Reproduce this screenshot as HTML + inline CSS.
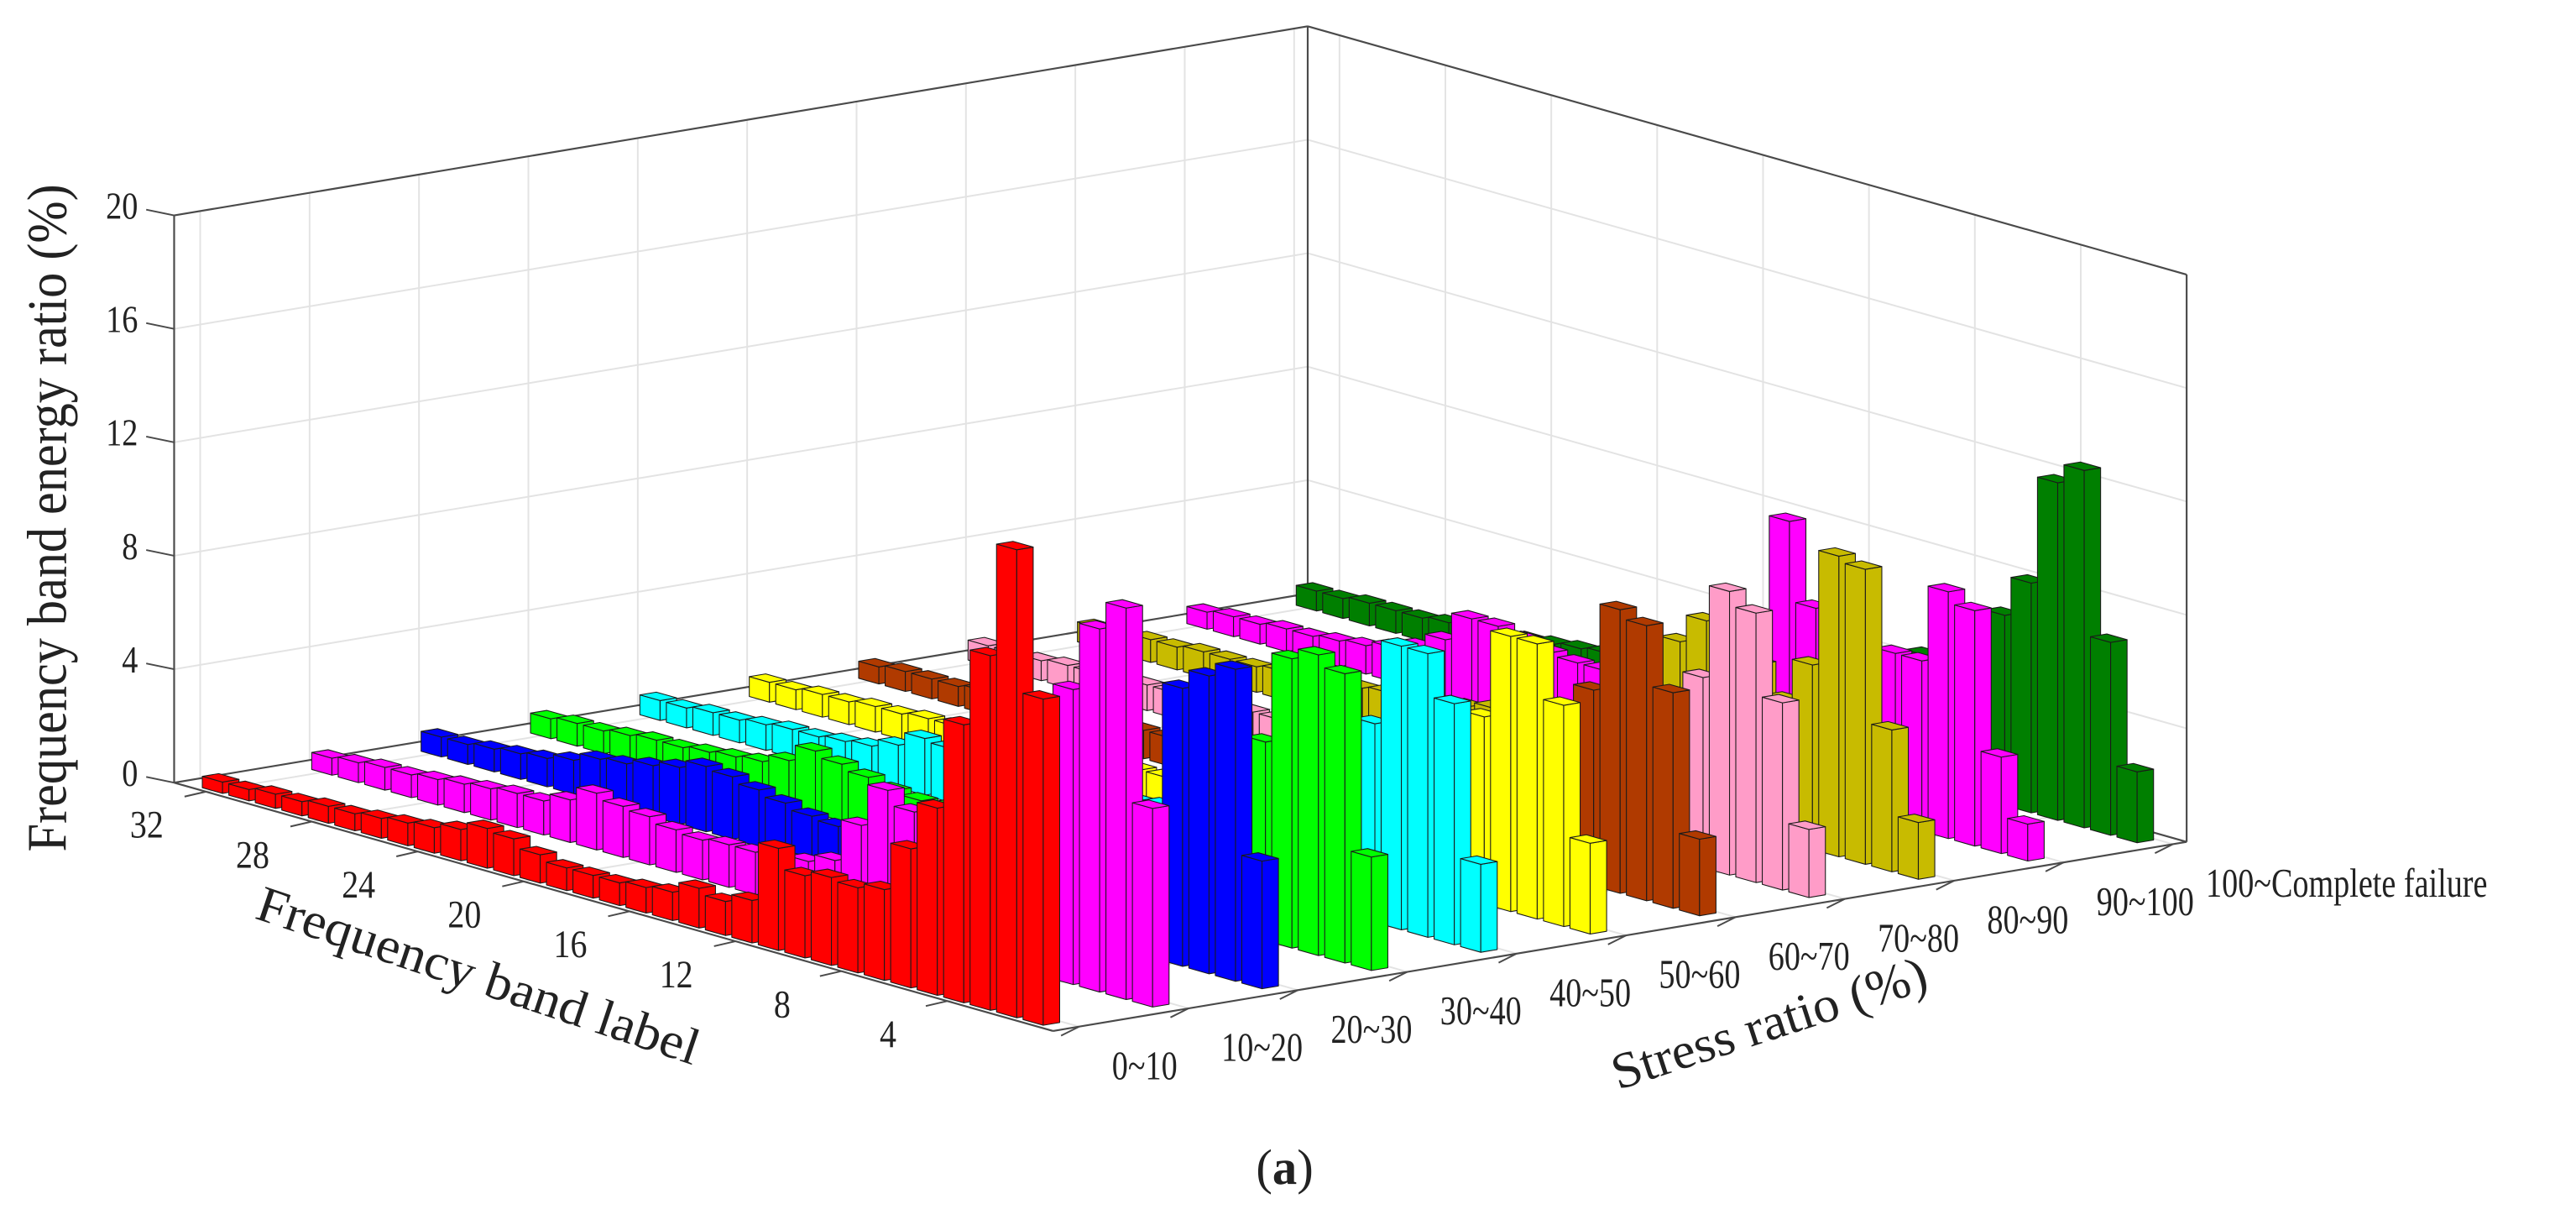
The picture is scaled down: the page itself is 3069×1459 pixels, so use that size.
<!DOCTYPE html>
<html>
<head>
<meta charset="utf-8">
<style>
html,body{margin:0;padding:0;background:#fff;}
svg{display:block;}
text{font-family:"Liberation Serif","Times New Roman",serif;fill:#222;}
</style>
</head>
<body>
<svg id="chart" width="3069" height="1459" viewBox="0 0 1568 745" preserveAspectRatio="none" xmlns="http://www.w3.org/2000/svg">
  <rect x="0" y="0" width="1568" height="745" fill="#fff"/>
  <g id="walls"></g>
  <g id="bars"></g>
  <g id="axes"></g>
  <g id="labels"></g>
  <text x="782" y="720" text-anchor="middle" font-size="30">(<tspan font-weight="bold">a</tspan>)</text>
</svg>
<script>
// ---- data ----
const stressCategories = ["0~10","10~20","20~30","30~40","40~50","50~60","60~70","70~80","80~90","90~100","100~Complete failure"];
const bandTicks = [4,8,12,16,20,24,28,32];
const zTicks = [0,4,8,12,16,20];
const s0_10   = [11.5,16.5,12.5,9.8,6.6,4.9,3.2,3.0,3.1,2.9,3.6,1.5,1.2,1.4,1.0,0.9,0.8,0.8,0.8,1.0,1.3,1.4,1.1,0.9,0.8,0.7,0.6,0.6,0.5,0.5,0.4,0.4];
const s10_20  = [7.0,13.8,12.8,10.4,4.5,3.5,3.0,2.8,3.5,4.5,5.0,3.5,2.0,1.7,1.6,1.5,1.5,1.4,1.5,1.7,1.8,2.0,1.5,1.2,1.2,1.1,1.0,0.9,0.8,0.8,0.7,0.6];
const s20_30  = [4.5,11.0,10.5,9.8,3.5,2.5,2.0,1.5,1.3,1.2,1.2,1.1,1.0,1.0,1.2,1.3,1.5,1.6,1.8,2.0,2.2,2.3,2.0,1.8,1.6,1.5,1.2,1.0,0.9,0.8,0.7,0.7];
const s30_40  = [4.0,10.2,10.6,10.2,7.0,3.5,2.5,2.2,2.0,2.0,2.2,2.5,2.3,2.0,1.8,1.6,1.5,1.5,1.6,1.8,2.0,2.2,1.6,1.3,1.2,1.1,1.0,1.0,0.9,0.8,0.8,0.7];
const s40_50  = [3.1,8.5,10.0,10.0,7.0,3.0,2.2,2.0,1.8,1.8,1.8,1.9,2.0,1.9,1.8,1.7,1.6,1.6,1.7,1.8,1.9,2.0,1.5,1.2,1.1,1.0,1.0,0.9,0.8,0.8,0.7,0.7];
const s50_60  = [3.2,7.8,9.7,9.7,6.6,4.0,2.5,2.2,2.0,1.8,1.7,1.6,1.5,1.5,1.4,1.4,1.3,1.3,1.4,1.5,1.6,1.4,1.2,1.1,1.0,1.0,0.9,0.9,0.8,0.8,0.7,0.7];
const s60_70  = [2.7,7.6,9.7,10.0,6.9,4.5,3.0,2.5,2.2,2.0,1.8,1.6,1.5,1.4,1.3,1.2,1.2,1.1,1.1,1.0,1.0,1.0,0.9,0.9,0.9,0.8,0.8,0.8,0.7,0.7,0.7,0.6];
const s70_80  = [2.4,6.6,9.5,10.0,6.7,5.0,3.5,3.0,2.5,2.2,2.0,1.8,1.6,1.5,1.4,1.3,1.2,1.2,1.1,1.1,1.0,1.0,1.0,0.9,0.9,0.9,0.8,0.8,0.8,0.7,0.7,0.7];
const s80_90  = [2.0,5.0,10.4,10.6,6.5,5.0,6.0,6.5,7.0,6.0,4.0,3.2,3.0,2.5,2.2,2.0,1.8,1.6,1.5,1.4,1.3,1.2,1.1,1.0,1.0,0.9,0.9,0.9,0.8,0.8,0.7,0.7];
const s90_100 = [1.3,3.4,8.3,8.7,6.0,6.0,5.5,5.0,6.8,9.6,5.0,4.0,3.5,3.0,2.8,2.6,2.5,2.5,2.6,2.8,3.0,3.0,2.0,1.5,1.2,1.0,0.9,0.8,0.8,0.7,0.7,0.6];
const s100_cf = [2.5,6.8,12.6,11.9,8.1,6.7,5.0,5.5,4.5,4.0,3.5,3.0,2.5,2.3,2.2,2.0,1.8,1.7,1.6,1.5,1.4,1.3,1.2,1.1,1.0,0.9,0.9,0.8,0.8,0.8,0.7,0.7];
const seriesValues = [s0_10,s10_20,s20_30,s30_40,s40_50,s50_60,s60_70,s70_80,s80_90,s90_100,s100_cf];

// ---- styles / projection ----
const rowColors = ["#ff0000","#ff00ff","#0000ff","#00ff00","#00ffff","#ffff00","#b03a00","#ff9cc8","#c8bb00","#ff00ff","#007f00"];
const NS = "http://www.w3.org/2000/svg";
const FX=641, FY=627, LUX=-535, LUY=-151, RVX=690, RVY=-115, ZS=17.25;
const ZMAX = 20;
function P(u,v,z){ return [FX+LUX*u+RVX*v, FY+LUY*u+RVY*v-ZS*z]; }
function bandU(b){ return b/33.2; }
function rowV(i){ return 0.013+0.0965*i; }
function gridV(i){ return rowV(i)+0.01; }
function pts(arr){ return arr.map(p=>p[0].toFixed(2)+","+p[1].toFixed(2)).join(" "); }

const walls = document.getElementById("walls");
const bars = document.getElementById("bars");
const axes = document.getElementById("axes");
const labels = document.getElementById("labels");

function line(parent,a,b,stroke,w){
  const l = document.createElementNS(NS,"line");
  l.setAttribute("x1",a[0]); l.setAttribute("y1",a[1]);
  l.setAttribute("x2",b[0]); l.setAttribute("y2",b[1]);
  l.setAttribute("stroke",stroke); l.setAttribute("stroke-width",w);
  parent.appendChild(l);
  return l;
}
function text(parent,str,x,y,size,anchor,squish,transform){
  const t = document.createElementNS(NS,"text");
  t.setAttribute("x",x); t.setAttribute("y",y);
  t.setAttribute("font-size",size);
  t.setAttribute("text-anchor",anchor);
  if(transform) t.setAttribute("transform",transform);
  t.textContent = str;
  parent.appendChild(t);
  const len = t.getComputedTextLength();
  if(len>0){ t.setAttribute("textLength",(len*squish).toFixed(2)); t.setAttribute("lengthAdjust","spacingAndGlyphs"); }
  return t;
}

// ---- grid lines ----
const GRID="#e3e3e3";
zTicks.forEach(z=>{
  if(z===0||z===ZMAX) return;
  const g1 = line(walls,P(1,0,z),P(1,1,z),GRID,1);
  
  
  const g2 = line(walls,P(1,1,z),P(0,1,z),GRID,1);
  
  
});
stressCategories.forEach((c,i)=>{
  const v = gridV(i);
  const g1 = line(walls,P(1,v,0),P(1,v,ZMAX),GRID,1);
  
  
  const g2 = line(walls,P(0,v,0),P(1,v,0),GRID,1);
  
  
});
bandTicks.forEach(b=>{
  const u = bandU(b);
  const g1 = line(walls,P(u,1,0),P(u,1,ZMAX),GRID,1);
  
  
  const g2 = line(walls,P(u,0,0),P(u,1,0),GRID,1);
  
  
});

// ---- box edges (back) ----
const EDGE="#4a4a4a";
[[P(1,0,0),P(1,1,0)],[P(1,1,0),P(0,1,0)],[P(1,1,0),P(1,1,ZMAX)],[P(1,0,0),P(1,0,ZMAX)],
 [P(0,1,0),P(0,1,ZMAX)],[P(1,0,ZMAX),P(1,1,ZMAX)],[P(1,1,ZMAX),P(0,1,ZMAX)]].forEach(e=>{
  const l = line(walls,e[0],e[1],EDGE,1.1);
  
  
});

// ---- bars (back to front) ----
const DU=0.023, DV=0.0145;
for(let i=seriesValues.length-1;i>=0;i--){
  const vals = seriesValues[i];
  const vc = rowV(i);
  for(let b=vals.length;b>=1;b--){
    const h = vals[b-1];
    const uc = bandU(b);
    const u0=uc-DU/2, u1=uc+DU/2, v0=vc-DV/2, v1=vc+DV/2;
    const g = document.createElementNS(NS,"g");
    
    
    g.setAttribute("fill",rowColors[i]);
    g.setAttribute("stroke","#1a1a1a");
    g.setAttribute("stroke-width","0.55");
    g.setAttribute("stroke-linejoin","round");
    const faces = [
      [P(u0,v0,0),P(u1,v0,0),P(u1,v0,h),P(u0,v0,h)],
      [P(u0,v0,0),P(u0,v1,0),P(u0,v1,h),P(u0,v0,h)],
      [P(u0,v0,h),P(u1,v0,h),P(u1,v1,h),P(u0,v1,h)]
    ];
    faces.forEach(f=>{
      const p = document.createElementNS(NS,"polygon");
      p.setAttribute("points",pts(f));
      g.appendChild(p);
    });
    bars.appendChild(g);
  }
}

// ---- front axis lines ----
const ax1 = line(axes,P(1,0,0),P(0,0,0),EDGE,1.1);


const ax2 = line(axes,P(0,0,0),P(0,1,0),EDGE,1.1);



// z ticks and labels
zTicks.forEach(z=>{
  const p = P(1,0,z);
  const t = line(axes,p,[p[0]-17,p[1]-3.5],EDGE,1);
  
  
  const lb = text(labels,String(z),84,p[1]+2,23,"end",0.85);
  
  
});
// band ticks and labels
bandTicks.forEach(b=>{
  const p = P(bandU(b),0,0);
  const t = line(axes,p,[p[0]-13,p[1]+3],EDGE,1);
  
  
  const lb = text(labels,String(b),p[0]-36,p[1]+28,24,"middle",0.85);
  
  
});
// stress ticks and labels
stressCategories.forEach((c,i)=>{
  const p = P(0,gridV(i),0);
  const t = line(axes,p,[p[0]-11,p[1]+5.5],EDGE,1);
  
  
  const lb = text(labels,c,p[0]+20,p[1]+32,25,"start",0.78);
  
  
});

// axis titles
const zt = text(labels,"Frequency band energy ratio (%)",0,0,34,"middle",1,"translate(40,315) rotate(-90)");
zt.setAttribute("textLength","406");


const bt = text(labels,"Frequency band label",0,0,31,"middle",1,"translate(288,603) rotate(18.5)");
bt.setAttribute("textLength","282");


const st = text(labels,"Stress ratio (%)",0,0,31,"middle",1,"translate(1080,632) rotate(-18)");
st.setAttribute("textLength","200");


</script>
</body>
</html>
